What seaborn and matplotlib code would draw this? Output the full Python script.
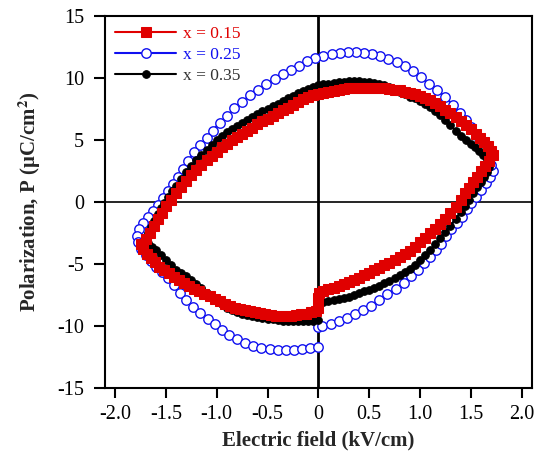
import matplotlib.pyplot as plt
import seaborn as sns

# P-E loops, values (E in kV/cm, P in uC/cm^2)
# each loop: rise (0 -> +Emax, lower), fall (+Emax -> -Emax, upper), back (-Emax -> 0, lower)

# x = 0.15
red_e_rise = [0.0, 0.01, 0.05, 0.1, 0.15, 0.2, 0.25, 0.3, 0.35, 0.4, 0.45, 0.5, 0.55, 0.6, 0.65, 0.7, 0.75, 0.8,
              0.85, 0.9, 0.95, 1.0, 1.05, 1.1, 1.15, 1.2, 1.25, 1.3, 1.35, 1.4, 1.44, 1.48, 1.52, 1.56, 1.6,
              1.64, 1.68]
red_p_rise = [-7.75, -7.3, -7.15, -7.0, -6.9, -6.75, -6.6, -6.45, -6.3, -6.1, -5.9, -5.7, -5.5, -5.3, -5.1, -4.9,
              -4.7, -4.45, -4.2, -3.95, -3.6, -3.25, -2.9, -2.5, -2.15, -1.75, -1.35, -0.9, -0.4, 0.2, 0.7, 1.15,
              1.6, 2.05, 2.5, 2.9, 3.3]
red_e_fall = [1.72, 1.7, 1.67, 1.63, 1.59, 1.55, 1.5, 1.45, 1.4, 1.35, 1.3, 1.25, 1.2, 1.15, 1.1, 1.05, 1.0, 0.95,
              0.9, 0.85, 0.8, 0.75, 0.7, 0.65, 0.6, 0.55, 0.5, 0.45, 0.4, 0.35, 0.3, 0.25, 0.2, 0.15, 0.1, 0.05,
              0.0, -0.05, -0.1, -0.15, -0.2, -0.25, -0.3, -0.35, -0.4, -0.45, -0.5, -0.55, -0.6, -0.65, -0.7,
              -0.75, -0.8, -0.85, -0.9, -0.95, -1.0, -1.05, -1.1, -1.15, -1.2, -1.25, -1.3, -1.35, -1.4, -1.45,
              -1.5, -1.54, -1.58, -1.62, -1.66, -1.7, -1.74]
red_p_fall = [3.8, 4.15, 4.5, 4.85, 5.15, 5.45, 5.85, 6.2, 6.5, 6.85, 7.15, 7.45, 7.7, 7.95, 8.2, 8.4, 8.55, 8.7,
              8.8, 8.9, 9.0, 9.05, 9.1, 9.15, 9.2, 9.2, 9.2, 9.2, 9.2, 9.15, 9.15, 9.1, 9.05, 8.95, 8.9, 8.8,
              8.7, 8.6, 8.45, 8.3, 8.1, 7.85, 7.6, 7.4, 7.15, 6.95, 6.7, 6.5, 6.25, 6.0, 5.75,
              5.5, 5.25, 5.0, 4.7, 4.4, 4.05, 3.7, 3.35, 2.95, 2.55, 2.15, 1.7, 1.2, 0.7, 0.2,
              -0.35, -0.85, -1.4, -1.95, -2.5, -2.95, -3.35]
red_e_back = [-1.72, -1.69, -1.65, -1.61, -1.57, -1.52, -1.47, -1.42, -1.37, -1.32, -1.27, -1.22, -1.17, -1.12,
              -1.07, -1.02, -0.97, -0.92, -0.87, -0.82, -0.77, -0.72, -0.67, -0.62, -0.57, -0.52, -0.47, -0.42,
              -0.37, -0.32, -0.27, -0.22, -0.17, -0.12, -0.07, -0.02, 0.0]
red_p_back = [-3.75, -4.15, -4.5, -4.85, -5.2, -5.5, -5.75, -6.05, -6.3, -6.55, -6.8, -7.0, -7.2, -7.4,
              -7.6, -7.8, -8.0, -8.2, -8.35, -8.5, -8.6, -8.7, -8.8, -8.9, -8.95, -9.05, -9.1, -9.15,
              -9.15, -9.15, -9.15, -9.1, -9.05, -9.0, -8.9, -8.8, -8.5]

# x = 0.25
blue_e_rise = [0.0, 0.04, 0.12, 0.2, 0.28, 0.36, 0.44, 0.52, 0.6, 0.68, 0.76, 0.84, 0.91, 0.98, 1.04, 1.1, 1.16,
               1.21, 1.26, 1.31, 1.36, 1.41, 1.46, 1.5, 1.55, 1.6, 1.65, 1.69]
blue_p_rise = [-10.1, -9.95, -9.8, -9.6, -9.35, -9.05, -8.7, -8.35, -7.9, -7.45, -7.0, -6.5, -5.95, -5.45, -4.95,
               -4.45, -3.9, -3.35, -2.75, -2.2, -1.7, -1.2, -0.6, -0.1, 0.4, 0.95, 1.5, 2.0]
blue_e_fall = [1.72, 1.7, 1.67, 1.63, 1.59, 1.55, 1.5, 1.45, 1.39, 1.32, 1.25, 1.17, 1.09, 1.01, 0.93, 0.85, 0.77,
               0.69, 0.61, 0.53, 0.45, 0.37, 0.29, 0.21, 0.13, 0.05, -0.03, -0.11, -0.19, -0.27, -0.35, -0.43,
               -0.51, -0.59, -0.67, -0.75, -0.83, -0.9, -0.97, -1.04, -1.1, -1.16, -1.22, -1.28, -1.33, -1.38,
               -1.43, -1.48, -1.53, -1.58, -1.63, -1.68, -1.72, -1.76, -1.78]
blue_p_fall = [2.5, 3.0, 3.6, 4.2, 4.8, 5.4, 6.05, 6.6, 7.2, 7.85, 8.45, 9.05, 9.5, 10.05, 10.55, 10.95, 11.3,
               11.55, 11.75, 11.9, 12.0, 12.05, 12.05, 12.0, 11.9, 11.8, 11.6, 11.35, 11.0, 10.65, 10.3, 9.9,
               9.5, 9.05, 8.6, 8.1, 7.55, 6.9, 6.4, 5.75, 5.15, 4.6, 4.05, 3.3, 2.7, 2.05,
               1.45, 0.85, 0.3, -0.2, -0.7, -1.2, -1.7, -2.2, -2.7]
blue_e_back = [-1.77, -1.74, -1.7, -1.65, -1.6, -1.54, -1.48, -1.42, -1.36, -1.3, -1.23, -1.16, -1.09, -1.02,
               -0.95, -0.88, -0.8, -0.72, -0.64, -0.56, -0.48, -0.4, -0.32, -0.24, -0.16, -0.08, 0.0]
blue_p_back = [-3.2, -3.75, -4.25, -4.75, -5.2, -5.65, -6.15, -6.7, -7.3, -7.9, -8.45, -8.95, -9.4, -9.85,
               -10.3, -10.7, -11.05, -11.35, -11.6, -11.75, -11.85, -11.9, -11.9, -11.9, -11.85, -11.75, -11.65]

# x = 0.35
black_e_rise = [0.0, 0.05, 0.1, 0.15, 0.2, 0.25, 0.3, 0.35, 0.4, 0.45, 0.5, 0.55, 0.6, 0.65, 0.7, 0.75, 0.8, 0.85,
                0.9, 0.95, 1.0, 1.05, 1.1, 1.15, 1.2, 1.25, 1.3, 1.35, 1.4, 1.44, 1.48, 1.52, 1.56, 1.6, 1.63,
                1.66, 1.68]
black_p_rise = [-8.1, -8.05, -8.0, -7.9, -7.85, -7.75, -7.65, -7.5, -7.35, -7.2, -7.05, -6.9, -6.75, -6.55, -6.35,
                -6.15, -5.9, -5.65, -5.4, -5.05, -4.7, -4.3, -3.85, -3.4, -2.9, -2.4, -1.9, -1.35, -0.8, -0.3,
                0.2, 0.7, 1.2, 1.6, 2.0, 2.4, 2.8]
black_e_fall = [1.69, 1.66, 1.62, 1.58, 1.54, 1.5, 1.45, 1.4, 1.35, 1.3, 1.25, 1.2, 1.15, 1.1, 1.05, 1.0, 0.95,
                0.9, 0.85, 0.8, 0.75, 0.7, 0.65, 0.6, 0.55, 0.5, 0.45, 0.4, 0.35, 0.3, 0.25, 0.2, 0.15, 0.1,
                0.05, 0.0, -0.05, -0.1, -0.15, -0.2, -0.25, -0.3, -0.35, -0.4, -0.45, -0.5, -0.55, -0.6, -0.65,
                -0.7, -0.75, -0.8, -0.85, -0.9, -0.95, -1.0, -1.05, -1.1, -1.15, -1.2, -1.25, -1.3, -1.35, -1.4,
                -1.44, -1.48, -1.52, -1.55, -1.58, -1.62, -1.65, -1.68, -1.7]
black_p_fall = [3.2, 3.5, 3.75, 4.15, 4.45, 4.7, 5.0, 5.3, 5.75, 6.2, 6.6, 7.0, 7.35, 7.65, 7.9, 8.15, 8.35,
                8.5, 8.7, 8.9, 9.1, 9.25, 9.4, 9.5, 9.6, 9.65, 9.7, 9.75, 9.75, 9.75, 9.7, 9.7, 9.6, 9.55,
                9.5, 9.4, 9.25, 9.1, 8.95, 8.75, 8.55, 8.35, 8.15, 7.9, 7.7, 7.5, 7.3, 7.1, 6.85,
                6.6, 6.35, 6.1, 5.9, 5.65, 5.35, 5.0, 4.6, 4.2, 3.8, 3.4, 2.9, 2.4, 1.85, 1.3,
                0.85, 0.4, -0.05, -0.5, -0.95, -1.5, -2.0, -2.5, -3.0]
black_e_back = [-1.68, -1.64, -1.6, -1.55, -1.5, -1.45, -1.4, -1.35, -1.3, -1.25, -1.2, -1.15, -1.1, -1.05, -1.0,
                -0.95, -0.9, -0.85, -0.8, -0.75, -0.7, -0.65, -0.6, -0.55, -0.5, -0.45, -0.4, -0.35, -0.3,
                -0.25, -0.2, -0.15, -0.1, -0.05, 0.0]
black_p_back = [-3.3, -3.6, -3.9, -4.3, -4.7, -5.1, -5.45, -5.75, -6.0, -6.3, -6.6, -6.95, -7.3, -7.65, -8.0,
                -8.25, -8.5, -8.7, -8.85, -9.0, -9.1, -9.2, -9.25, -9.35, -9.4, -9.45, -9.5, -9.55, -9.6,
                -9.6, -9.6, -9.6, -9.55, -9.55, -9.5]

labels = ["x = 0.15", "x = 0.25", "x = 0.35"]
x_ticks = [-2.0, -1.5, -1.0, -0.5, 0.0, 0.5, 1.0, 1.5, 2.0]
x_tick_labels = ["-2.0", "-1.5", "-1.0", "-0.5", "0", "0.5", "1.0", "1.5", "2.0"]
y_ticks = [-15, -10, -5, 0, 5, 10, 15]
y_tick_labels = ["-15", "-10", "-5", "0", "5", "10", "15"]

RED = "#e00000"
BLUE = "#1010f0"
BLACK = "black"

sns.set_style("ticks")
plt.rcParams["font.family"] = "Liberation Serif"
plt.rcParams["mathtext.fontset"] = "stix"

fig, ax = plt.subplots(figsize=(5.35, 4.54), dpi=100)
fig.subplots_adjust(left=0.196, right=0.994, top=0.965, bottom=0.145)

ax.axhline(0, color="black", lw=1.2, zorder=1)
ax.axvline(0, color="black", lw=2.0, zorder=1)


def loop(*parts):
    out = []
    for part in parts:
        out += part
    return out


sns.lineplot(
    x=loop(blue_e_rise, blue_e_fall, blue_e_back), y=loop(blue_p_rise, blue_p_fall, blue_p_back),
    sort=False, estimator=None, ax=ax, color=BLUE, lw=1.5, marker="o", markersize=6.8,
    markerfacecolor="white", markeredgecolor=BLUE, markeredgewidth=1.0, label=labels[1], zorder=2,
)
sns.lineplot(
    x=loop(black_e_rise, black_e_fall, black_e_back), y=loop(black_p_rise, black_p_fall, black_p_back),
    sort=False, estimator=None, ax=ax, color=BLACK, lw=1.5, marker="o", markersize=5.5,
    markeredgecolor=BLACK, label=labels[2], zorder=3,
)
sns.lineplot(
    x=loop(red_e_rise, red_e_fall, red_e_back), y=loop(red_p_rise, red_p_fall, red_p_back),
    sort=False, estimator=None, ax=ax, color=RED, lw=1.5, marker="s", markersize=7.8,
    markeredgecolor=RED, label=labels[0], zorder=4,
)

ax.set_xlim(-2.1, 2.1)
ax.set_ylim(-15, 15)
ax.set_xticks(x_ticks)
ax.set_xticklabels(x_tick_labels)
ax.set_yticks(y_ticks)
ax.set_yticklabels(y_tick_labels)
ax.tick_params(direction="out", width=1.5, labelsize=14.5, top=False, right=False, colors="black")
ax.tick_params(axis="x", length=7, pad=5)
ax.tick_params(axis="y", length=8, pad=7)
for spine in ax.spines.values():
    spine.set_linewidth(1.5)
    spine.set_color("black")

ax.set_xlabel("Electric field (kV/cm)", fontsize=15, fontweight="bold", labelpad=5)
ax.set_ylabel(r"Polarization, P (μC/cm$^{\mathbf{2}}$)", fontsize=15, fontweight="bold", labelpad=10)

handles, texts = ax.get_legend_handles_labels()
order = [texts.index(lab) for lab in labels]
leg = ax.legend(
    [handles[i] for i in order], [texts[i] for i in order], loc="upper left", frameon=False,
    fontsize=12.5, handlelength=3.5, handletextpad=0.4, labelspacing=0.28,
    borderaxespad=0.3, borderpad=0.3,
)
for text, col in zip(leg.get_texts(), [RED, BLUE, "#333333"]):
    text.set_color(col)

fig.savefig("out.png", dpi=100)
